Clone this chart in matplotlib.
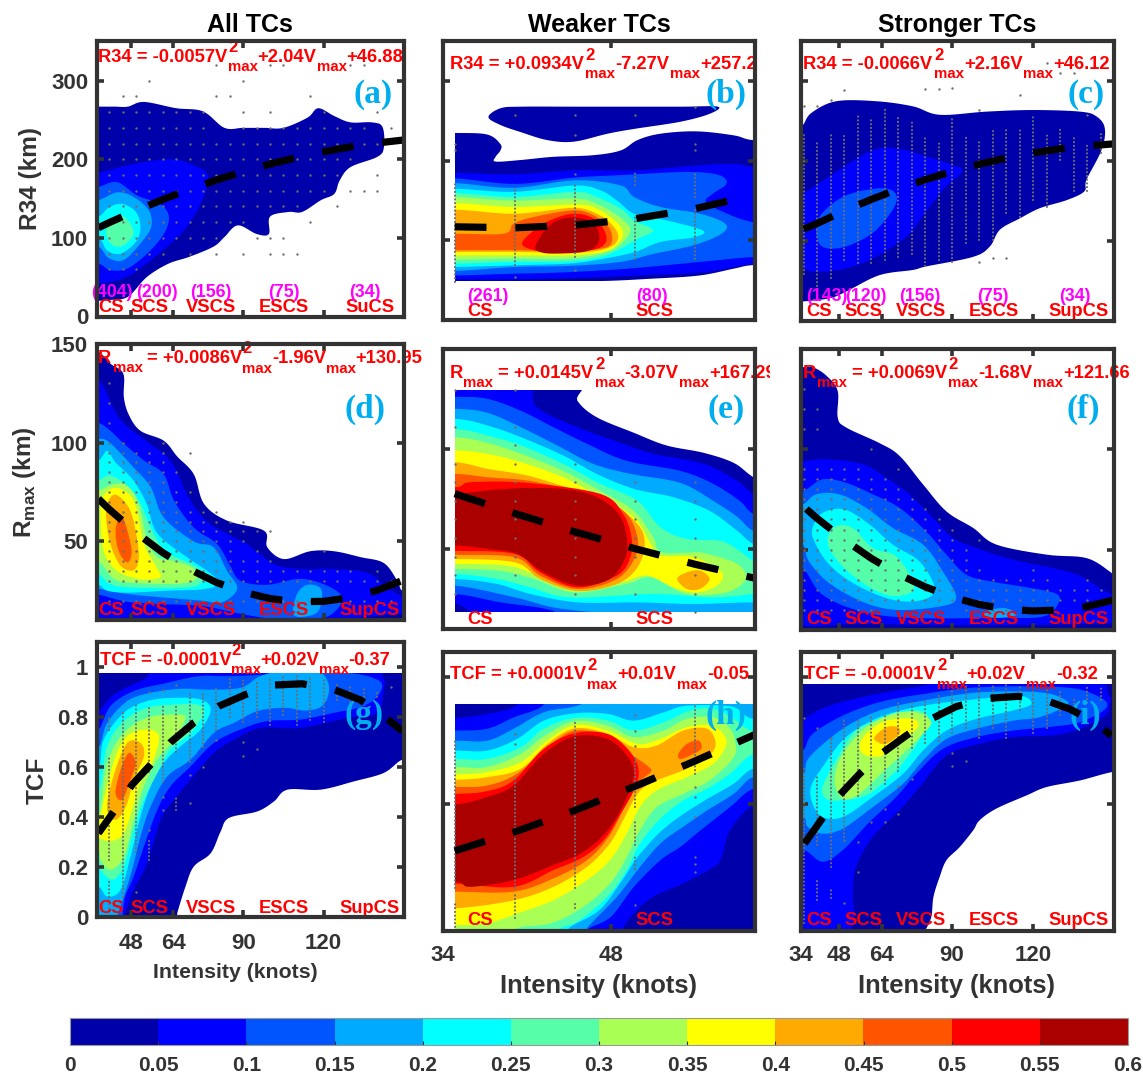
import numpy as np
import matplotlib
matplotlib.use("Agg")
import matplotlib.pyplot as plt
import matplotlib.transforms as mtransforms
from matplotlib.cm import ScalarMappable
from matplotlib.colors import BoundaryNorm, ListedColormap
from matplotlib.patches import Rectangle

W, H = 1143, 1079
plt.rcParams['font.family'] = ['Liberation Sans', 'DejaVu Sans']
plt.rcParams['font.weight'] = 'bold'
plt.rcParams['mathtext.fontset'] = 'custom'
plt.rcParams['mathtext.bf'] = 'Liberation Sans:bold'
plt.rcParams['mathtext.rm'] = 'Liberation Sans:bold'

levels = [0, 0.05, 0.1, 0.15, 0.2, 0.25, 0.3, 0.35, 0.4, 0.45, 0.5, 0.55, 0.6]
level_labels = ['0', '0.05', '0.1', '0.15', '0.2', '0.25', '0.3', '0.35', '0.4', '0.45', '0.5', '0.55', '0.6']
colors = ['#0000aa', '#0000ff', '#0055ff', '#00aaff', '#00ffff', '#55ffaa',
          '#aaff55', '#ffff00', '#ffaa00', '#ff5500', '#ff0000', '#aa0000']

# density outlines: (level, [(intensity, value), ...])
a_shapes = [
    (0.0, [(30,267),(36,267),(42,267),(47,267),(53,273),(65,265),(75,261),(83,240),(90,240),(98,240),(105,240),(114,253),(118,265),(124,255),(130,247),(138,247),(142,241),(142.5,215),(140,203),(130,190),(126,173),(124,156),(119,148),(112,133),(107,133),(100,127),(99.6,105),(95,105),(88,116),(83,101),(79,89),(70,76),(62,67),(54,50),(47,25),(40,21),(36,20),(30,19)]),
    (0.05, [(30,183),(36,183),(49,194),(61.7,200),(69,196),(77,179),(74,143),(69,114),(63,93),(54,67.5),(47,51),(40.5,44),(36,42),(30,42)]),
    (0.1, [(30,165),(36,165),(43,171),(50.5,154),(59,143),(62.3,127),(60.4,105),(54.2,80),(46.8,61),(40.5,59),(36,67.5),(30,67.5)]),
    (0.15, [(30,148),(36,148),(43,158),(49.2,152),(54.8,135),(55.7,114),(51.7,93),(45.5,72),(40,74),(36,89),(30,89)]),
    (0.2, [(30,127),(36,127),(40,139),(45,143),(50,133),(51.7,114),(50,95),(44.3,80),(39.3,84),(36,101),(30,101)]),
    (0.25, [(39.3,114),(41.8,127),(45.5,127),(48.6,114),(48.6,101),(44.3,89),(40.5,93),(39,105)]),
]
b_shapes = [
    (0.0, [(37.8,255),(38.8,266),(40.5,268),(45,268),(50,268),(54,268),(56.9,268),(56.2,259),(53.75,249),(49.9,240),(47.7,234),(44.9,224),(42.7,226),(40.5,236),(38.8,245)]),
    (0.0, [(30,235),(35,235),(37.7,233),(38.8,221),(38.8,213),(38.4,205),(38.4,199),(40.5,201),(43.2,205),(46.5,207),(48.8,213),(50.2,226),(52.1,234),(55.1,237),(58.2,232),(59.8,226),(63,226),(63,70),(59.8,69),(58.2,64.5),(55.4,56),(51.5,52),(46,48.6),(35,48.6),(30,45)]),
    (0.05, [(30,185),(35,185),(40,183),(45,188),(50,188),(55,194),(58.2,196),(60,192),(63,192),(63,71),(60,71),(55.7,60),(50.2,56),(45.5,53),(40.4,51),(35,51),(30,51)]),
    (0.1, [(30,178),(35,178),(40,171),(45,179),(48.8,182),(54.3,186),(57,182),(57.6,171),(56.5,159),(55.9,148),(57.6,134),(59.8,123),(63,120),(63,78),(59.8,79),(55.4,73),(49.8,65),(44.3,60),(39.6,58),(35,56),(30,56)]),
    (0.15, [(30,172),(35,172),(39.9,166),(45,175.5),(48.8,169),(49.9,154.6),(52.1,142),(55.4,133.6),(57.5,121),(57.2,108.5),(54.9,94),(51.5,83),(48.8,73),(44.6,68),(39.9,66.6),(35,61.6),(30,61.6)]),
    (0.2, [(30,165),(35,165),(39.9,161),(45,169),(47.1,163),(48.5,150),(49.9,133.6),(52.1,127),(55.6,112.7),(54.9,104),(52.1,98),(50,85.5),(47.4,77),(44.6,71),(39.9,68.7),(35,66.6),(30,66.6)]),
    (0.25, [(30,159.6),(35,159.6),(39.9,154.6),(45,161),(46.8,154.6),(48.8,140),(49.9,125),(51.5,112.7),(50.2,102),(48.8,89.7),(47.1,79),(44.6,73.7),(39.9,73),(35,70.8),(30,70.8)]),
    (0.3, [(30,154.6),(35,154.6),(39.9,150),(45,152.5),(46.8,146),(48.5,131.5),(49.6,114.8),(49,98),(47.7,85.5),(44.6,77),(39.9,77),(35,75.8),(30,75.8)]),
    (0.35, [(30,147),(35,147),(39.9,142),(45,145),(46.8,140),(48.3,125),(49,110.6),(48.6,96),(47.4,85.5),(44.6,81.3),(39.9,81.3),(35,81.3),(30,81.3)]),
    (0.4, [(30,138.7),(35,138.7),(39.3,133.6),(41.8,135.7),(45,141),(46.8,133.6),(48,121),(48.6,106),(48.2,94),(46.8,86.7),(44.6,84.6),(39.9,85.5),(35,85.5),(30,85.5)]),
    (0.45, [(30,108.5),(35,108.5),(39.1,108.5),(39.9,121),(41.6,129.5),(45,137.8),(46.8,129.5),(47.8,116.9),(48.1,102),(47.7,91.7),(46,87.6),(44.6,86.7),(39.9,87.6),(35,87.6),(30,87.6)]),
    (0.5, [(40.6,96),(41.6,112.7),(43.2,127),(45,133.6),(46.6,127),(47.5,110.6),(47.5,96),(46.3,87.6),(43.2,85.5),(41.6,87.6)]),
    (0.55, [(41.7,91.7),(42.4,110.6),(43.5,125),(45,128.6),(46.4,123),(47,108.5),(46.8,93.8),(45.7,85.5),(43.2,83.4),(42.1,85.5)]),
]
c_shapes = [
    (0.0, [(28,243),(34,243),(37.7,260),(47,275),(62,275),(75.5,268.6),(85.4,258),(102.7,262),(120,264),(137.4,262),(143.5,256),(146.6,241),(145.4,214),(139.8,176.6),(139,162),(132.4,151),(122.5,141),(115,128),(107.7,114),(104,93),(97.8,80),(80.4,68),(75.5,63.6),(63,57),(50.7,36.4),(44.5,28),(34,24),(28,24)]),
    (0.05, [(28,160),(34.6,160),(44.5,181),(59.4,212),(69.3,216),(80.4,206),(90.3,195),(93.8,187),(86.6,164),(79,130.5),(73,105),(59.4,76),(48.2,63.6),(38.3,61.5),(34.6,65.7),(28,65.7)]),
    (0.1, [(40.2,126),(45.8,147),(53.2,160),(64.3,166),(69.3,158),(68,139),(60.6,110),(50.7,93),(43.3,91),(40.2,101)]),
]
d_shapes = [
    (0.0, [(30,146),(36,146),(40.5,140),(45.3,135),(45.5,123),(47.4,114),(51.7,106),(60.4,101),(65.4,93),(71.6,84),(75.4,69),(84,60.5),(97.8,55.4),(99,47),(105.2,41),(115,45),(123.9,45),(133.8,42),(142.5,39),(147.5,30),(149.4,25),(155,25),(155,5),(30,5)]),
    (0.05, [(30,132.5),(36,132.5),(41.2,118.5),(45.5,109.7),(54.7,100),(63,90.7),(69.8,72),(76.6,60),(86.6,52),(91.5,48.6),(101.5,38.5),(111.4,36),(123.9,36),(136.3,34),(143.8,26.6),(149.4,22),(155,20),(155,14),(30,14)]),
    (0.1, [(30,110),(36,110),(40.5,106),(45.5,99.5),(53,91),(60.4,84),(64.2,70.7),(71.6,57),(80.3,48.6),(85,38),(89,30),(99,28),(111.4,31),(121.4,27.5),(127,21.5),(123.9,14),(117.6,11),(100,11),(86.6,14),(74,17.3),(49,19),(36,23),(30,23)]),
    (0.15, [(30,102),(36,102),(39.3,101),(44,95),(49,87.6),(55.5,77.5),(60.4,62),(71.6,50),(79,47),(84,35),(87.8,26),(82,19),(74,20),(49,23),(36,26),(30,26)]),
    (0.15, [(110,23),(114,28),(119,26),(119,18),(116.5,13),(109,12.5)]),
    (0.2, [(30,91),(36,91),(39.3,95.8),(42.4,90),(49,81),(54,69),(58,54),(69,42),(76.6,35),(81,29),(75.4,25.8),(61.7,25),(46.8,24),(39.3,25),(36,28),(30,28)]),
    (0.25, [(30,81),(36,81),(40.5,83.4),(47.4,77.5),(51.7,69),(56.7,53.7),(61.7,44.4),(72.9,36.8),(74.7,30),(69,26.6),(49,26.6),(40.5,28.3),(36,33.4),(30,33.4)]),
    (0.3, [(30,75.8),(36,75.8),(41.8,79),(46.8,78),(51,69),(54,52),(58,42),(64.2,40),(70.9,36.8),(72.9,31.7),(66.7,28.6),(49,29),(41.8,31),(36,40),(30,40)]),
    (0.35, [(37.4,72),(41.8,77),(47.4,74),(50.5,65.6),(53,48.6),(58,36),(59.2,31.7),(51.7,30.8),(43,35),(38,45),(36.8,62)]),
    (0.4, [(39.3,69),(42.4,73.7),(47.4,67),(49.9,55.4),(51.1,41.9),(49.2,35.4),(44.3,37.6),(40.5,48.6),(39,60.5)]),
    (0.45, [(42.4,55.4),(44.3,63),(46.5,57),(48.4,45),(46.8,39.3),(43.6,45)]),
]
e_shapes = [
    (0.0, [(30,135),(44.5,135),(45.2,124),(46.8,115.8),(49.9,108),(52.6,101.7),(55.7,98),(58.2,93),(59.85,85.8),(62,80),(62,10),(30,10)]),
    (0.05, [(30,135),(40.3,135),(41.8,120.8),(45.2,110.8),(48.8,103),(51.5,97.5),(55.7,92.5),(58.5,84),(59.85,77.5),(62,74),(62,10),(40.5,10),(35,22.8),(30,23)]),
    (0.1, [(30,126),(35,126),(37.7,125),(40.5,119),(43.2,110.8),(46,102.5),(49.3,94),(53.75,89),(56.5,82.5),(58.7,74),(59.85,67.5),(62,65),(62,10),(45,10),(43.2,19),(38.8,23.3),(35,27.5),(30,27.5)]),
    (0.15, [(30,120),(35,120),(37.7,118),(40.5,110.8),(43.8,100.8),(46.5,92.5),(49.6,87.5),(53.75,83),(56.5,74),(58.5,66),(59.85,59),(62,58),(62,21),(50,18),(44,20),(40,25.8),(35,31.7),(30,31.7)]),
    (0.2, [(30,115),(35,115),(37.7,111.7),(40.5,105.8),(44,96.7),(46.8,87.5),(49.9,80),(53.2,75.8),(56.2,69),(58.5,59),(59.85,52.5),(62,50),(62,22),(59.85,23.3),(54.9,22.5),(50.2,23.3),(45.2,23.3),(41.3,27.5),(38.5,32.5),(35,35),(30,35)]),
    (0.25, [(30,110),(35,110),(37.7,106.7),(40.5,101.7),(44,92.5),(47.1,82.5),(50.2,74),(52.1,60.8),(54.3,55),(57.1,54),(58.7,49),(59.85,44),(62,40),(62,28),(59.85,27.5),(56.5,25.8),(51.5,27.5),(44.6,25.8),(41.3,30.8),(38.5,35),(35,37.5),(30,37.5)]),
    (0.3, [(30,105.8),(35,105.8),(37.7,103),(40.5,97.5),(44,89),(47.1,79),(49.9,69),(51.5,55.8),(52.2,48.3),(55,48.3),(56,47.5),(58.5,42.5),(59.2,35),(57.6,28.3),(54.3,27.5),(51.3,35.8),(49.3,32.5),(44.9,28.3),(41.6,35),(38.8,39),(35,40),(30,40)]),
    (0.35, [(30,99.2),(35,99.2),(37.7,97.5),(40.5,93.3),(44,85.8),(47.1,75.8),(49.9,65.8),(51.3,52.5),(52.1,46.7),(54.9,45.8),(57.2,38.3),(56.8,31.7),(55.1,28.3),(53.2,30.8),(51,36.7),(48.8,33.3),(44.9,30),(41.6,37.5),(39.3,41.7),(35,42.5),(30,42.5)]),
    (0.4, [(30,93.3),(35,93.3),(37.7,90),(41,86.7),(44.3,80.8),(47.7,74),(50.2,62.5),(50.8,52.5),(50.2,40.8),(48.5,32.5),(45.2,29),(42.1,35),(40,43.3),(35,45),(30,45)]),
    (0.4, [(53.5,35),(54.3,38.3),(55.4,39.2),(56.2,35),(55.4,30),(54.3,30)]),
    (0.45, [(30,87.5),(35,87.5),(37.7,85.8),(41,84.2),(44.3,80),(47.1,75.8),(49.3,67.5),(50.2,55.8),(50,45.8),(48.5,35),(45.2,30),(42.1,36.7),(40,45.8),(35,47),(30,47)]),
    (0.5, [(30,80.8),(35,80.8),(36.3,83.3),(41,83),(47.1,77.5),(49,67.5),(49.7,55.8),(49.6,45.8),(48.5,36.7),(45.2,30.8),(42.1,38.3),(40,47.5),(35,49),(30,49)]),
    (0.55, [(30,77.5),(35,77.5),(38.2,79.5),(41.8,80.5),(45.2,79),(47.4,74),(48.8,65.8),(49.3,55.8),(49.2,45.8),(47.9,35),(45.2,31.7),(42.4,38.3),(40.2,47.5),(37.7,50),(35,51.7),(30,51.7)]),
]
f_shapes = [
    (0.0, [(28,141),(34.6,140.8),(38.3,140.8),(43.3,136.7),(47.6,129),(47.6,115.8),(50.7,110.8),(63.1,103),(70.5,96.7),(79.2,82.5),(87.9,69),(97.8,60.8),(106.4,52.5),(125,47.5),(139.8,45.8),(148.5,39),(150,36.7),(156,35),(156,5),(28,5)]),
    (0.05, [(28,94),(34.6,94),(43.3,95),(56.9,92.5),(65.6,85.8),(74.2,77.5),(82.9,65.8),(90.3,55.8),(99,50.8),(112.6,45),(134.9,38.3),(144.8,30.8),(149.7,27.5),(156,25),(156,14),(60,13),(28,20)]),
    (0.1, [(28,79),(34.6,79),(42,85),(50.7,83.3),(60.6,77.5),(70.5,70.8),(80.4,59),(87.9,47.5),(95.3,37.5),(105.2,34),(118.8,31),(128.7,28),(129.3,23),(123.7,16.7),(106.4,16),(75.5,16),(56.9,19),(42,27.5),(34.6,40.8),(28,40.8)]),
    (0.15, [(28,72.5),(34.6,72.5),(39.6,77.5),(48.2,77.5),(58.1,70.8),(68,60.8),(79.2,52.5),(86.6,39),(91.5,26),(85.4,21.7),(69.3,20),(56.9,24),(44.5,33.3),(37,44),(34.6,52.5),(28,52.5)]),
    (0.15, [(104,20),(110,20.8),(113.8,17.5),(106.4,16),(101.5,17.5)]),
    (0.2, [(38.3,60.8),(42,68.3),(50.1,70),(59.4,62.5),(68,52.5),(78,44),(83.5,30.8),(79.2,25),(68,25),(54.4,32.5),(44.5,42.5),(39,54)]),
    (0.25, [(43.9,55.8),(47,61.7),(53.2,60.8),(60.6,50.8),(69.3,46.7),(75.5,34),(74.2,28.3),(65.6,27.5),(54.4,35.8),(45.8,47.5)]),
]
g_shapes = [
    (0.0, [(30,1.2),(155,1.2),(155,.62),(149.4,.63),(142.5,.577),(131.3,.543),(118.9,.51),(106.5,.51),(101.5,.463),(95.3,.423),(84.7,.397),(81.6,.343),(77.9,.256),(71.6,.203),(68.5,.123),(65.4,.016),(64,-.05),(30,-.05)]),
    (0.05, [(30,.824),(36,.824),(41.8,.89),(53,.95),(64.2,1.0),(135,1.0),(142,.96),(142.5,.917),(140,.817),(128.8,.797),(111.4,.757),(96.5,.757),(86.6,.71),(79.1,.657),(70.4,.55),(64.2,.47),(59.2,.39),(54.2,.216),(49.2,.11),(45.5,0),(45,-.05),(30,-.05)]),
    (0.1, [(30,.75),(36,.75),(40.5,.844),(49.2,.904),(61.7,.937),(74,.964),(86.6,.964),(123.9,.98),(140,.95),(141,.897),(135,.844),(123.9,.817),(111.4,.79),(99,.784),(89,.75),(79.1,.697),(70.4,.603),(62.9,.523),(58,.43),(53,.283),(49.2,.163),(46,.083),(44.9,.003),(44,-.05),(30,-.05)]),
    (0.15, [(30,.677),(36,.677),(39.3,.777),(46.8,.864),(55.5,.897),(66.7,.913),(76.6,.91),(89,.917),(96.5,.964),(105.2,.985),(117.7,.985),(122,.924),(120,.85),(113.9,.826),(105.2,.837),(95.3,.824),(86.6,.777),(79.1,.737),(70.4,.63),(61.7,.563),(55.5,.443),(51.7,.323),(48.6,.19),(45.5,.083),(43,.003),(42,-.05),(30,-.05)]),
    (0.2, [(30,.59),(36,.59),(38,.71),(45.5,.817),(54.2,.864),(64.2,.877),(74.1,.87),(77.9,.83),(74.1,.75),(66.7,.684),(60.4,.617),(55.5,.523),(51.7,.403),(48,.243),(44.3,.11),(39.3,.083),(36,.123),(30,.123)]),
    (0.25, [(30,.497),(36,.497),(39.3,.684),(45.5,.784),(54.2,.837),(64.2,.85),(72.9,.85),(75.4,.817),(70.4,.737),(62.9,.67),(58,.577),(53,.47),(49.2,.35),(45.5,.203),(41.2,.15),(36.8,.19),(36,.216),(30,.216)]),
    (0.3, [(30,.403),(36,.403),(39.3,.617),(45.5,.737),(54.2,.797),(64.2,.81),(68.5,.797),(64.2,.71),(58,.63),(53,.523),(49.2,.39),(45.5,.243),(40.5,.19),(36.8,.23),(36,.27),(30,.27)]),
    (0.35, [(36,.35),(40.5,.577),(45.5,.71),(53,.75),(58.6,.724),(56,.617),(51.7,.537),(48.6,.43),(45.5,.336),(41.8,.307),(38,.31)]),
    (0.4, [(39.3,.457),(42.4,.59),(46.8,.697),(51.7,.697),(53,.643),(49.2,.55),(46.8,.457),(43.6,.397),(40.5,.397)]),
    (0.45, [(42.4,.497),(44.3,.59),(47.4,.657),(49.9,.617),(48,.55),(44.9,.47)]),
]
h_shapes = [
    (0.0, [(30,-.05),(62,-.05),(62,1),(30,1)]),
    (0.05, [(30,.84),(35,.84),(37.7,.856),(40.2,.892),(41,1),(62,1),(62,.48),(59.85,.495),(57.9,.397),(57.2,.29),(56.5,.25),(54,.187),(51.5,.134),(49.9,.068),(49,.009),(48.5,-.05),(30,-.05)]),
    (0.1, [(30,.79),(35,.79),(37.7,.797),(39.9,.842),(42.4,.892),(43,1),(62,1),(62,.54),(59.85,.56),(57.9,.488),(55.1,.383),(53.75,.33),(52.1,.278),(49.9,.173),(48,.055),(46,.003),(46,-.05),(30,-.05)]),
    (0.15, [(30,.75),(35,.75),(37.7,.75),(39.9,.797),(42.4,.862),(45.2,.888),(48.8,.95),(62,1),(62,.58),(59.85,.606),(58.2,.54),(56,.475),(54,.41),(52.1,.344),(50.2,.239),(48.5,.134),(46,.01),(45.5,-.05),(30,-.05)]),
    (0.2, [(30,.711),(35,.711),(37.7,.711),(40.2,.757),(42.4,.829),(45,.858),(47.7,.856),(49.9,.829),(52.4,.862),(54.3,.888),(58,.885),(59.5,.84),(62,.80),(62,.62),(59.85,.64),(58.2,.58),(56,.52),(54,.46),(52.1,.39),(50.2,.29),(48.8,.19),(47,.08),(44.5,.01),(44,-.05),(30,-.05)]),
    (0.25, [(30,.678),(35,.678),(37.7,.678),(40.5,.724),(42.4,.797),(45,.84),(47.7,.83),(49.9,.79),(52.4,.823),(54.6,.869),(56.5,.875),(58.2,.836),(59.6,.79),(62,.76),(62,.68),(59.85,.698),(57.9,.62),(56,.56),(54,.514),(52.1,.442),(50.4,.344),(49.3,.239),(47.7,.134),(45.2,.035),(43.8,.01),(43,-.05),(30,-.05)]),
    (0.3, [(30,.646),(35,.646),(37.7,.646),(40.5,.698),(42.5,.77),(45,.827),(47.7,.81),(49.9,.764),(52.4,.79),(54.3,.836),(56.5,.842),(57.8,.803),(58.3,.75),(58.2,.685),(56.2,.593),(54,.54),(51.8,.488),(50.4,.396),(49.3,.29),(47.9,.186),(45.7,.094),(43,.029),(40.2,.01),(39,-.05),(30,-.05)]),
    (0.35, [(30,.617),(35,.617),(37.7,.626),(40.5,.665),(42.7,.75),(45,.812),(47.7,.79),(50.2,.737),(52.1,.757),(54.3,.803),(56.4,.81),(57.5,.764),(57.5,.724),(56.5,.659),(54.3,.606),(51.8,.554),(50.4,.488),(49.3,.383),(47.9,.278),(46,.2),(43.2,.12),(40.2,.068),(37.7,.029),(35,.022),(30,.02)]),
    (0.4, [(30,.596),(35,.596),(37.7,.606),(40.5,.639),(42.7,.737),(45,.799),(47.7,.777),(49.9,.724),(51.8,.731),(54,.79),(56,.797),(56.7,.737),(56,.685),(54,.633),(51.5,.587),(50.2,.54),(49,.436),(47.9,.344),(46,.252),(43.2,.173),(39.9,.12),(35,.088),(30,.088)]),
    (0.45, [(30,.567),(35,.567),(37.7,.573),(40.2,.62),(42.7,.724),(45,.79),(47.7,.764),(49.6,.698),(51,.652),(51.3,.626),(50.2,.58),(49,.475),(47.8,.37),(46,.278),(43.2,.206),(39.9,.154),(35,.154),(30,.154)]),
    (0.45, [(53.6,.698),(54.3,.737),(55.3,.75),(55.5,.718),(54.6,.692),(53.75,.678)]),
    (0.5, [(30,.54),(35,.54),(37.7,.551),(39.9,.593),(42.4,.718),(45,.78),(47.7,.777),(49.5,.711),(50.3,.633),(49.9,.554),(48.8,.462),(47.5,.364),(45.7,.291),(43.2,.239),(39.9,.173),(35,.186),(30,.186)]),
    (0.55, [(30,.499),(35,.499),(37.7,.528),(39.9,.573),(42.4,.698),(45,.768),(47.7,.757),(49.3,.692),(49.9,.619),(49.2,.514),(47.7,.396),(45.7,.311),(43.2,.259),(39.9,.2),(36.3,.173),(35,.193),(30,.193)]),
]
i_shapes = [
    (0.0, [(28,1.2),(156,1.2),(156,.62),(149.8,.627),(137.4,.593),(125,.567),(117.6,.534),(106.4,.482),(100.2,.436),(97.8,.396),(92.8,.33),(87.9,.278),(85.4,.213),(83.1,.134),(82.3,.055),(80.2,.003),(78,-.05),(28,-.05)]),
    (0.05, [(28,.803),(34.6,.803),(35.3,.836),(44.5,.888),(61.9,.934),(79.2,.967),(90,1.0),(140,1.0),(148,.93),(148.5,.90),(146,.842),(131.2,.777),(112.6,.764),(100.2,.737),(87.9,.692),(78,.567),(70.5,.475),(60.6,.37),(54.4,.252),(53.2,.134),(53.8,.055),(52.6,.003),(52,-.05),(28,-.05)]),
    (0.1, [(28,.711),(34.6,.711),(38.3,.777),(49.5,.849),(63.1,.902),(79.2,.934),(100.2,.961),(131.2,.961),(143.6,.928),(147.3,.882),(137.4,.823),(125,.803),(112.6,.79),(99,.764),(86.6,.718),(76.7,.619),(69.3,.528),(59.4,.429),(49.5,.318),(42,.272),(35.3,.318),(28,.318)]),
    (0.15, [(28,.619),(34.9,.619),(37.1,.685),(49.5,.797),(63.1,.869),(79.2,.908),(100.2,.941),(122.5,.941),(131.2,.915),(132.4,.888),(122.5,.843),(112.6,.829),(99,.797),(87.9,.757),(79.2,.672),(71.8,.58),(60.6,.488),(49.5,.403),(42,.383),(36.5,.41),(34.9,.449),(28,.449)]),
    (0.2, [(37.7,.567),(42,.646),(50.7,.764),(63.1,.843),(79.2,.888),(100.2,.915),(115,.928),(119.4,.895),(112.6,.869),(99,.836),(87.9,.79),(79.2,.711),(71.8,.619),(60.6,.528),(49.5,.449),(42,.449),(38.3,.501)]),
    (0.25, [(42,.567),(47,.672),(54.4,.79),(65.6,.84),(75.5,.869),(81,.849),(79.2,.777),(73,.678),(66.8,.606),(58.1,.534),(48.2,.514),(43.3,.521)]),
    (0.3, [(46.4,.593),(49.5,.698),(58.1,.803),(68,.856),(76.7,.862),(82.3,.823),(78,.764),(71.8,.698),(64.3,.626),(55.7,.541),(49.5,.521)]),
    (0.35, [(55.7,.724),(58.1,.777),(65.6,.829),(75.5,.836),(77.3,.803),(71.8,.757),(64.3,.692),(58.1,.692)]),
    (0.4, [(61.2,.764),(65.6,.803),(69.9,.803),(70.5,.777),(65.6,.738),(62.5,.744)]),
]

# sample points per intensity column
a_dots = [
    (40,[60,80,100,120,140,160,180,200,220,240,260]),
    (45,[60,80,100,120,140,160,180,200,220,240,260,280]),
    (50,[60,80,100,120,140,160,180,200,220,240,260,280]),
    (55,[80,100,120,140,160,180,200,220,240,260,300]),
    (60,[80,100,120,140,160,180,200,220,240,260]),
    (65,[100,120,140,160,180,200,220,240,260]),
    (70,[80,100,120,140,160,180,200,220,240,260]),
    (75,[100,120,140,160,180,200,220,240,260]),
    (80,[80,100,120,140,160,180,200,220,280,320]),
    (85,[120,140,160,180,200,220,280]),
    (90,[80,120,140,160,180,200,220,240,260,300]),
    (95,[100,140,160,180,200,220,240]),
    (100,[80,100,140,160,180,200,220,240,260,320]),
    (105,[80,100,140,160,180,200,220,240,320]),
    (110,[80,140,160,180,200,220,240]),
    (115,[120,160,180,200,220,240,280]),
    (120,[160,180,200,220,240,260]),
    (125,[140,180,200,220,240]),
    (130,[160,200,220,240,320]),
    (135,[160,220,240,320]),
    (140,[160,180,220,260]),
    (145,[240]),
]
d_dots = [
    (40,[130,120,110,100,95,90,85,80,75,70,65,60,55,50,45,40,35,30,20]),
    (45,[100,95,90,85,80,75,70,65,60,55,50,45,40,35,30,20]),
    (50,[95,90,85,80,75,70,65,60,55,50,45,40,35,30,20]),
    (55,[95,90,85,80,75,70,65,60,55,50,45,40,35,30,20]),
    (60,[100,95,90,85,80,75,70,65,60,55,50,45,40,35,30,20]),
    (65,[85,75,70,65,60,55,50,45,40,35,30,20]),
    (70,[95,75,65,60,55,50,45,40,35,30,20]),
    (75,[65,60,55,50,45,40,35,30,20]),
    (80,[65,60,55,50,45,40,35,30,20]),
    (85,[60,55,50,45,40,35,30,20]),
    (90,[60,55,50,40,35,30,20]),
    (95,[55,45,40,35,30,20]),
    (100,[55,40,35,30,20]),
    (105,[35,30,20]),
    (110,[35,30,20]),
    (115,[35,30,20]),
    (120,[45,35,30,20]),
    (125,[35,30,20]),
    (130,[35,30,20]),
    (135,[30,20]),
    (140,[35,30,20]),
    (145,[30,20]),
]
e_dots = [
    (35,[129.5,110.8,92.5,83.2,74,64.7,55.5,46.2,37,27.7]),
    (40,[129.5,110.8,101.7,92.5,83.2,74,64.7,55.5,46.2,37]),
    (45,[92.5,83.2,74,64.7,55.5,46.2,37,27.7]),
    (50,[83.2,74,64.7,55.5,46.2,27.7]),
    (55,[83.2,74,64.7,55.5,46.2,37,27.7,18.3]),
]
f_dots = [
    (35,[130,120,110,90,85,80,75,70,65,60,55,50,45,40,35,30,25,20]),
    (40,[120,110,90,85,80,75,70,65,60,55,50,45,40,35,30,25,20]),
    (45,[90,85,80,75,70,65,60,55,50,45,40,35,30,25,20]),
    (50,[90,85,80,75,70,65,60,55,50,45,40,35,30,25,20]),
    (55,[90,85,80,75,70,65,60,55,50,45,40,35,30,25,20]),
    (60,[100,85,80,75,70,65,60,55,50,45,40,35,30,25,20]),
    (65,[85,80,75,70,65,60,55,50,45,40,35,30,25]),
    (70,[90,80,75,70,65,60,55,50,45,40,35,30,25]),
    (75,[75,70,65,60,55,50,45,40,35,30,25]),
    (80,[70,65,60,55,50,45,40,35,30,25]),
    (85,[65,60,55,50,45,40,35,30,25]),
    (90,[60,55,50,45,40,35,30,25]),
    (95,[50,45,40,35,30,25,20]),
    (100,[55,40,35,30,25]),
    (105,[35,30,25,20]),
    (110,[35,30,25,20]),
    (115,[35,30,25]),
    (120,[40,35,30,25]),
    (125,[35,30,25]),
    (130,[30,25]),
    (135,[30,25]),
    (140,[35,30,25]),
    (145,[30]),
]
b_dots = [(35,[221,213]), (40,[257,54]), (45,[257,233,184,63]), (50,[258]), (55,[268,221,213])]
b_spans = [(35,48,175),(40,69,167),(45,79,171),(50,77,129),(50,169,185),(55,77,142),(55,155,186)]
c_dots = [(35,[269]),(40,[269]),(45,[277]),(50,[289]),(80,[290]),(85,[290]),(90,[292]),(100,[264,74]),(105,[78]),(110,[78]),(115,[283]),(125,[323]),(130,[310]),(135,[310]),(140,[258])]
c_spans = [(35,59,235),(40,43,227),(45,53,235),(50,76,235),(55,72,256),(60,72,252),(65,76,266),(70,80,256),(75,84,252),(80,68,231),(85,76,227),(90,74,254),(95,97,233),(100,101,227),(105,101,241),(110,135,243),(115,130,241),(120,151,258),(125,143,237),(130,201,243),(135,162,229),(140,162,223),(145,210,237)]
g_dots = [(50,[.10]),(55,[.90,.35]),(60,[.91,.48,.43]),(65,[.93]),(70,[.57,.457]),(75,[.60]),(80,[.71]),(90,[.70,.646]),(95,[.673]),(145,[.92])]
g_spans = [(40,.23,.65),(40,.02,.15),(40,.75,.80),(45,.08,.83),(50,.26,.86),(55,.58,.85),(55,.23,.31),(60,.54,.85),(65,.66,.85),(65,.43,.48),(70,.62,.90),(75,.68,.90),(80,.75,.92),(85,.80,.96),(90,.78,.95),(95,.80,.95),(100,.77,.96),(105,.81,.97),(110,.77,.97),(115,.79,.97),(120,.78,.96),(125,.87,.94),(130,.83,.93),(135,.88,.92),(140,.88,.91)]
h_dots = [(40,[.777,.737]),(50,[.85,.79,.73,.10]),(55,[.567,.527,.449,.29,.265,.23])]
h_spans = [(35,.17,.75),(35,.015,.11),(40,.17,.61),(40,.05,.15),(45,.17,.83),(45,.09,.11),(50,.49,.69),(50,.34,.43),(50,.245,.29),(55,.62,.90)]
i_dots = [(35,[.84]),(40,[.80]),(45,[.76]),(50,[.357,.11]),(55,[.35,.23]),(60,[.43]),(65,[.48,.43]),(70,[.57,.46]),(75,[.60]),(90,[.70,.65]),(95,[.67])]
i_spans = [(35,.03,.65),(40,.34,.62),(40,.12,.20),(45,.25,.76),(45,.13,.17),(50,.37,.83),(55,.53,.83),(60,.56,.85),(65,.58,.85),(70,.63,.90),(75,.72,.91),(80,.74,.91),(85,.75,.93),(90,.78,.95),(95,.80,.97),(100,.76,.97),(105,.80,.97),(110,.76,.97),(115,.87,.97),(120,.78,.97),(125,.80,.96),(130,.85,.95),(135,.85,.92),(140,.90,.96),(145,.91,.96)]

# fitted curves
v_all = [36, 40, 50, 60, 70, 80, 90, 100, 110, 120, 130, 140, 150]
a_fit = [112.9, 119.4, 134.6, 148.8, 161.8, 173.6, 184.3, 193.9, 202.3, 209.6, 215.8, 220.8, 224.6]
c_fit = [114.9, 121.9, 137.6, 151.9, 165, 176.7, 187, 196.1, 203.8, 210.3, 215.4, 219.1, 221.6]
d_fit = [71.6, 66.3, 54.5, 44.3, 35.9, 29.2, 24.3, 21, 19.4, 19.6, 21.5, 25.2, 30.5]
f_fit = [70.2, 65.5, 55, 45.7, 37.9, 31.5, 26.4, 22.7, 20.4, 19.5, 19.9, 21.7, 25]
g_v = [36, 41.8, 48.6, 55.5, 63, 71.6, 81, 90.9, 101.5, 112, 124, 133.8, 142.5, 149.4]
g_fit = [.336, .423, .53, .61, .70, .777, .844, .89, .928, .933, .91, .868, .804, .744]
i_v = [35.3, 41.4, 48.2, 55.7, 63.7, 73, 82.3, 91.6, 103.3, 114.5, 125, 133.6, 144, 149]
i_fit = [.344, .436, .534, .619, .698, .77, .836, .885, .917, .925, .908, .875, .816, .77]
v_weak = [35, 40, 45, 50, 55, 60]
b_fit = [117.1, 115.8, 119.2, 127.2, 139.9, 157.4]
e_fit = [77.6, 67.7, 58.5, 50.1, 42.3, 35.3]
h_fit = [.315, .39, .475, .57, .67, .775]

strong_ticks = [48, 64, 90, 120]
r34_ticks = [0, 100, 200, 300]
rmax_ticks = [50, 100, 150]
tcf_ticks = [0, 0.2, 0.4, 0.6, 0.8, 1]
tcf_labels = ['0', '0.2', '0.4', '0.6', '0.8', '1']
cat_all = ['CS', 'SCS', 'VSCS', 'ESCS', 'SupCS']
cat_weak = ['CS', 'SCS']

fig = plt.figure(figsize=(W / 100, H / 100), dpi=100, facecolor='white')
PX = mtransforms.Affine2D().scale(1, -1).translate(0, H)
SPINE = '#333333'
GREY = '#6e6e6e'


def smooth(pts, n=8):
    # closed Catmull-Rom through the outline points
    p = np.array(pts, dtype=float)
    m = len(p)
    t = np.linspace(0, 1, n, endpoint=False)[:, None]
    out = []
    for i in range(m):
        p0, p1, p2, p3 = p[i - 1], p[i], p[(i + 1) % m], p[(i + 2) % m]
        out.append(0.5 * (2 * p1 + (p2 - p0) * t + (2 * p0 - 5 * p1 + 4 * p2 - p3) * t ** 2
                          + (3 * p1 - p0 - 3 * p2 + p3) * t ** 3))
    return np.vstack(out)


def panel(box, xlim, ylim, clip, shapes, dots, spans, vx, vy, off=0):
    l, t, r, b = box
    ax = fig.add_axes([l / W, 1 - b / H, (r - l) / W, (b - t) / H])
    rect = Rectangle((clip[0], clip[1]), clip[2] - clip[0], clip[3] - clip[1], transform=ax.transData)
    for lev, pts in shapes:
        p = smooth(pts)
        for patch in ax.fill(p[:, 0], p[:, 1], color=colors[int(round(lev / 0.05))], lw=0, zorder=1):
            patch.set_clip_path(rect)
    for x, ys in dots:
        ax.scatter([x] * len(ys), ys, s=3, color=GREY, lw=0, zorder=2)
    if spans:
        ax.vlines([s[0] for s in spans], [s[1] for s in spans], [s[2] for s in spans], colors=GREY,
                  linewidth=1.5, linestyles=(0, (0.1, 1.7)), capstyle='round', zorder=2)
    ax.plot(vx, vy, color='k', lw=5.2, linestyle=(off, (4.4, 4.0)), dash_capstyle='butt', zorder=2.3)
    ax.set_xlim(xlim)
    ax.set_ylim(ylim)
    for s in ax.spines.values():
        s.set_linewidth(3)
        s.set_color(SPINE)
    ax.tick_params(direction='in', length=5, width=2.6, color=SPINE, top=True, right=True,
                   labelsize=16, labelcolor=SPINE, pad=6)
    ax.set_xticklabels([])
    return ax


ax_a = panel((96.5, 41.4, 404, 316.5), (35.3, 150), (0, 350), (36, 0, 149.6, 350), a_shapes, a_dots, [], v_all, a_fit, 0.8)
ax_b = panel((442.7, 41.4, 755.3, 320), (34, 60), (0, 350), (35, 48.6, 59.85, 350), b_shapes, b_dots, b_spans, v_weak, b_fit)
ax_c = panel((801, 41.4, 1114, 320.7), (34, 150), (0, 350), (34.4, 0, 149.8, 350), c_shapes, c_dots, c_spans, [35] + v_all[1:], c_fit)
ax_d = panel((96.5, 344, 404, 620.3), (35.3, 150), (10, 150), (36, 11, 149.6, 150), d_shapes, d_dots, [], v_all, d_fit)
ax_e = panel((442.7, 348.7, 755.3, 629), (34, 60), (10, 150), (35, 18.3, 59.85, 129.5), e_shapes, e_dots, [], v_weak, e_fit)
ax_f = panel((801, 348.7, 1114, 630), (34, 150), (10, 150), (34.4, 11, 149.8, 150), f_shapes, f_dots, [], v_all, f_fit)
ax_g = panel((96.5, 642, 404, 917.3), (35.3, 150), (0, 1.1), (36, 0.008, 149.6, 0.975), g_shapes, g_dots, g_spans, g_v, g_fit, 0.8)
ax_h = panel((442.7, 652, 755.3, 930.7), (34, 60), (0, 1.1), (35, 0.008, 59.85, 0.895), h_shapes, h_dots, h_spans, v_weak, h_fit)
ax_i = panel((801, 652, 1114, 930.7), (34, 150), (0, 1.1), (34.4, 0.008, 149.8, 0.974), i_shapes, i_dots, i_spans, i_v, i_fit)

for ax in (ax_a, ax_d, ax_g, ax_c, ax_f, ax_i):
    ax.set_xticks(strong_ticks)
    ax.set_xticklabels([])
for ax in (ax_b, ax_e, ax_h):
    ax.set_xticks([48])
    ax.set_xticklabels([])
for ax in (ax_a, ax_b, ax_c):
    ax.set_yticks(r34_ticks[1:])
    ax.set_yticklabels([])
for ax in (ax_d, ax_e, ax_f):
    ax.set_yticks(rmax_ticks[:2] if ax is not ax_d else rmax_ticks)
    ax.set_yticklabels([])
for ax in (ax_g, ax_h, ax_i):
    ax.set_yticks(tcf_ticks if ax is ax_g else [0.5, 1])
    ax.set_yticklabels([])

ax_a.set_yticks(r34_ticks)
ax_a.set_yticklabels(r34_ticks)
ax_d.set_yticklabels(rmax_ticks)
ax_g.set_yticklabels(tcf_labels)
ax_g.set_xticklabels(strong_ticks)
ax_h.set_xticks([34, 48])
ax_h.set_xticklabels([34, 48])
ax_i.set_xticks([34] + strong_ticks)
ax_i.set_xticklabels([34] + strong_ticks)
ax_g.tick_params(axis='x', pad=11)
ax_h.tick_params(axis='x', pad=10)
ax_i.tick_params(axis='x', pad=10)


def put(ax, x, y, s, **kw):
    kw.setdefault('zorder', 2.1)
    return ax.text(x, y, s, transform=PX, **kw)


def equation(ax, parts, clip_x=None):
    for s, x, y, size in parts:
        t = put(ax, x, y, s, color='red', fontsize=size, va='baseline', ha='left')
        if clip_x is not None:
            t.set_clip_path(Rectangle((0, 0), clip_x, H, transform=mtransforms.IdentityTransform()))
            t.set_clip_on(True)


equation(ax_a, [('R34 = -0.0057V', 98, 61.5, 13.2), ('2', 228, 52, 12), ('max', 228, 70.7, 10.8),
                ('+2.04V', 257, 61.5, 13.2), ('max', 317, 70.7, 10.8), ('+46.88', 346, 61.5, 13.2)])
equation(ax_b, [('R34 = +0.0934V', 450, 69, 13.2), ('2', 585, 60, 12), ('max', 585, 78, 10.8),
                ('-7.27V', 615, 69, 13.2), ('max', 670, 78, 10.8), ('+257.29', 700, 69, 13.2)], clip_x=753)
equation(ax_c, [('R34 = -0.0066V', 803, 69, 13.2), ('2', 934, 60, 12), ('max', 934, 78, 10.8),
                ('+2.16V', 964, 69, 13.2), ('max', 1023, 78, 10.8), ('+46.12', 1053, 69, 13.2)])
equation(ax_d, [('R', 98, 362.7, 13.2), ('max', 113, 372, 10.8), ('= +0.0086V', 147, 362.7, 13.2), ('2', 242, 353, 12),
                ('max', 242, 373, 10.8), ('-1.96V', 272, 362.7, 13.2), ('max', 326, 373, 10.8), ('+130.95', 355, 362.7, 13.2)])
equation(ax_e, [('R', 450, 378, 13.2), ('max', 463, 387, 10.8), ('= +0.0145V', 498, 378, 13.2), ('2', 595, 369, 12),
                ('max', 595, 387, 10.8), ('-3.07V', 624, 378, 13.2), ('max', 679, 387, 10.8), ('+167.29', 709, 378, 13.2)], clip_x=770)
equation(ax_f, [('R', 803, 378, 13.2), ('max', 817, 387, 10.8), ('= +0.0069V', 852, 378, 13.2), ('2', 948, 369, 12),
                ('max', 948, 387, 10.8), ('-1.68V', 978, 378, 13.2), ('max', 1033, 387, 10.8), ('+121.66', 1063, 378, 13.2)])
equation(ax_g, [('TCF = -0.0001V', 100, 665, 13.2), ('2', 231, 655, 12), ('max', 231, 674, 10.8),
                ('+0.02V', 260, 665, 13.2), ('max', 319, 674, 10.8), ('-0.37', 348, 665, 13.2)])
equation(ax_h, [('TCF = +0.0001V', 450, 679, 13.2), ('2', 587, 670, 12), ('max', 587, 689, 10.8),
                ('+0.01V', 617, 679, 13.2), ('max', 677, 689, 10.8), ('-0.05', 707, 679, 13.2)])
equation(ax_i, [('TCF = -0.0001V', 804, 679, 13.2), ('2', 937, 670, 12), ('max', 937, 689, 10.8),
                ('+0.02V', 966, 679, 13.2), ('max', 1026, 689, 10.8), ('-0.32', 1056, 679, 13.2)])

# category names and sample counts
xs_a = [111, 149, 211, 284, 370]
xs_c = [819, 863, 921, 994, 1079]
xs_b = [480, 654]
for ax, xs, names, y in [(ax_a, xs_a, ['CS', 'SCS', 'VSCS', 'ESCS', 'SuCS'], 312), (ax_b, xs_b, cat_weak, 316),
                         (ax_c, xs_c, cat_all, 316), (ax_d, xs_a, cat_all, 615), (ax_e, xs_b, cat_weak, 624),
                         (ax_f, xs_c, cat_all, 624), (ax_g, xs_a, cat_all, 913), (ax_h, xs_b, cat_weak, 925),
                         (ax_i, xs_c, cat_all, 925)]:
    for x, s in zip(xs, names):
        put(ax, x, y, s, color='red', fontsize=13.2, ha='center', va='baseline')

for ax, xs, counts, y in [(ax_a, [112, 157, 211, 284, 365], ['(404)', '(200)', '(156)', '(75)', '(34)'], 297),
                          (ax_b, [488, 652], ['(261)', '(80)'], 301),
                          (ax_c, [827, 866, 920, 993, 1075], ['(143)', '(120)', '(156)', '(75)', '(34)'], 301)]:
    for x, s in zip(xs, counts):
        put(ax, x, y, s, color='#ff00ff', fontsize=12.8, ha='center', va='baseline')

for ax, s, x, y in [(ax_a, '(a)', 373, 103), (ax_b, '(b)', 726, 103), (ax_c, '(c)', 1086, 103),
                    (ax_d, '(d)', 365, 418), (ax_e, '(e)', 726, 418), (ax_f, '(f)', 1083, 418),
                    (ax_g, '(g)', 364, 723), (ax_h, '(h)', 726, 724), (ax_i, '(i)', 1085, 724)]:
    put(ax, x, y, s, color='#00aeef', fontsize=24, ha='center', va='baseline', family=['Liberation Serif'])

for ax, s, x in [(ax_a, 'All TCs', 250), (ax_b, 'Weaker TCs', 599), (ax_c, 'Stronger TCs', 957)]:
    put(ax, x, 25, s, color='black', fontsize=18, ha='center', va='center')

put(ax_a, 30, 178, 'R34 (km)', color=SPINE, fontsize=17.6, rotation=90, ha='center', va='center')
put(ax_d, 24, 482, r'R$_{\mathbf{max}}$ (km)', color=SPINE, fontsize=17.6, rotation=90, ha='center', va='center')
put(ax_g, 37, 780, 'TCF', color=SPINE, fontsize=17.6, rotation=90, ha='center', va='center')
put(ax_g, 235, 972, 'Intensity (knots)', color=SPINE, fontsize=15.3, ha='center', va='center')
put(ax_h, 598, 986, 'Intensity (knots)', color=SPINE, fontsize=18.4, ha='center', va='center')
put(ax_i, 956, 986, 'Intensity (knots)', color=SPINE, fontsize=18.4, ha='center', va='center')

# colour bar
cax = fig.add_axes([70 / W, 1 - 1045 / H, (1128 - 70) / W, 27 / H])
sm = ScalarMappable(norm=BoundaryNorm(levels, 12), cmap=ListedColormap(colors))
cb = fig.colorbar(sm, cax=cax, orientation='horizontal', ticks=levels, spacing='uniform')
cb.ax.set_xticklabels(level_labels)
cb.ax.tick_params(direction='in', length=3, width=0.8, color=SPINE, labelsize=15, labelcolor=SPINE, pad=8)
cb.outline.set_edgecolor('#999999')
cb.outline.set_linewidth(0.8)

fig.savefig('out.png', dpi=100, facecolor='white')
